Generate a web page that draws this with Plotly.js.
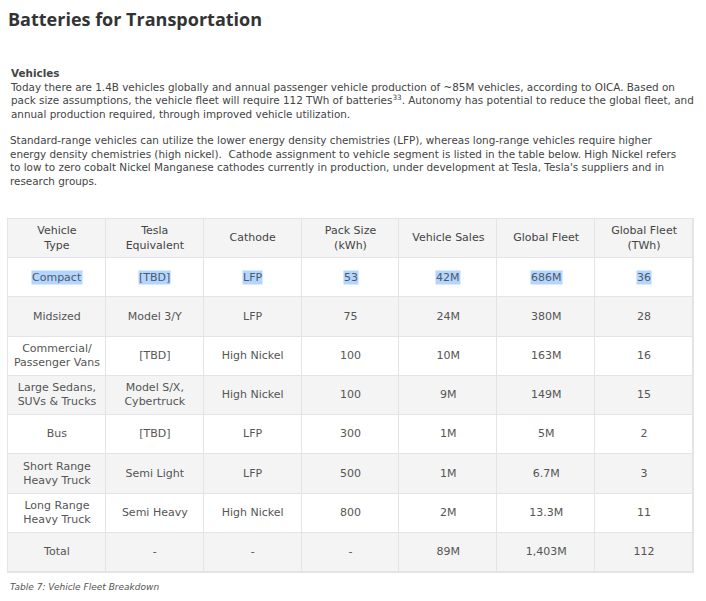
<!DOCTYPE html>
<html>
<head>
<meta charset="utf-8">
<script src="https://cdn.plot.ly/plotly-3.0.1.min.js"></script>
<style>
  body { margin: 0; background: #fff; }
  #fleet { width: 706px; height: 601px; }
</style>
</head>
<body>
<div id="fleet"></div>
<script>
var FLEET = document.getElementById('fleet');

var headers = ['Vehicle<br>Type', 'Tesla<br>Equivalent', 'Cathode', 'Pack Size<br>(kWh)', 'Vehicle Sales', 'Global Fleet', 'Global Fleet<br>(TWh)'];
var vehicleTypes = ['Compact', 'Midsized', 'Commercial/<br>Passenger Vans', 'Large Sedans,<br>SUVs & Trucks', 'Bus', 'Short Range<br>Heavy Truck', 'Long Range<br>Heavy Truck', 'Total'];
var teslaEquivalent = ['[TBD]', 'Model 3/Y', '[TBD]', 'Model S/X,<br>Cybertruck', '[TBD]', 'Semi Light', 'Semi Heavy', '-'];
var cathode = ['LFP', 'LFP', 'High Nickel', 'High Nickel', 'LFP', 'LFP', 'High Nickel', '-'];
var packSize = ['53', '75', '100', '100', '300', '500', '800', '-'];
var vehicleSales = ['42M', '24M', '10M', '9M', '1M', '1M', '2M', '89M'];
var globalFleet = ['686M', '380M', '163M', '149M', '5M', '6.7M', '13.3M', '1,403M'];
var fleetTWh = ['36', '28', '16', '15', '2', '3', '11', '112'];

var columns = [vehicleTypes, teslaEquivalent, cathode, packSize, vehicleSales, globalFleet, fleetTWh];
var nRows = vehicleTypes.length + 1;   // header + data rows
var FONT = '"DejaVu Sans", sans-serif';

// cell backgrounds: header and every other row shaded, gaps show the grid colour
var z = [];
for (var r = 0; r < nRows; r++) {
    var row = [];
    for (var c = 0; c < columns.length; c++) row.push(r % 2 === 0 ? 1 : 0);
    z.push(row);
}
var fills = {
    type: 'heatmap', z: z,
    colorscale: [[0, '#ffffff'], [1, '#f4f4f4']], zmin: 0, zmax: 1,
    showscale: false, xgap: 1, ygap: 1, hoverinfo: 'skip'
};

// header text
var headText = {
    type: 'scatter', mode: 'text', hoverinfo: 'skip',
    x: headers.map(function (h, i) { return i; }),
    y: headers.map(function () { return 0; }),
    text: headers,
    textposition: 'middle center',
    textfont: { family: FONT, size: 11, color: '#444' }
};

// body text
var bx = [], by = [], bt = [];
columns.forEach(function (col, c) {
    col.forEach(function (v, r) { bx.push(c); by.push(r + 1); bt.push(v); });
});
var bodyText = {
    type: 'scatter', mode: 'text', hoverinfo: 'skip',
    x: bx, y: by, text: bt,
    textposition: 'middle center',
    textfont: { family: FONT, size: 11, color: '#555' }
};

// page geometry, used to place the text blocks above the table
var H = 601, T = 219, B = 29;
function py(y) { return (H - B - y) / (H - T - B); }

var para1 = '<b>Vehicles</b><br>' +
    'Today there are 1.4B vehicles globally and annual passenger vehicle production of ~85M vehicles, according to OICA. Based on<br>' +
    'pack size assumptions, the vehicle fleet will require 112 TWh of batteries<sup>33</sup>. Autonomy has potential to reduce the global fleet, and<br>' +
    'annual production required, through improved vehicle utilization.';
var para2 = 'Standard-range vehicles can utilize the lower energy density chemistries (LFP), whereas long-range vehicles require higher<br>' +
    'energy density chemistries (high nickel).  Cathode assignment to vehicle segment is listed in the table below. High Nickel refers<br>' +
    'to low to zero cobalt Nickel Manganese cathodes currently in production, under development at Tesla, Tesla\'s suppliers and in<br>' +
    'research groups.';

function note(text, y, size, color) {
    return {
        text: text, xref: 'paper', yref: 'paper', x: 0, y: py(y),
        xanchor: 'left', yanchor: 'top', align: 'left', showarrow: false,
        font: { family: FONT, size: size, color: color }
    };
}

// text-selection highlight on the first data row
var highlight = columns.map(function (col, c) {
    return {
        text: col[0], xref: 'x', yref: 'y', x: c, y: 1,
        xanchor: 'center', yanchor: 'middle', showarrow: false, borderpad: 0,
        bgcolor: '#b5d6fc', font: { family: FONT, size: 11, color: '#4a5870' }
    };
});

var axis = {
    showgrid: false, zeroline: false, showticklabels: false, ticks: '',
    showline: true, mirror: true, linecolor: '#e4e4e8', linewidth: 1, fixedrange: true
};

var layout = {
    width: 706, height: 601,
    margin: { l: 8, r: 13, t: T, b: B },
    paper_bgcolor: '#ffffff',
    plot_bgcolor: '#e4e4e8',
    showlegend: false,
    xaxis: Object.assign({ range: [-0.5, columns.length - 0.5] }, axis),
    yaxis: Object.assign({ range: [nRows - 0.5, -0.5] }, axis),
    title: {
        text: '<b>Batteries for Transportation</b>',
        xref: 'paper', x: 0, xanchor: 'left',
        yref: 'container', y: 1 - 20 / H, yanchor: 'middle',
        font: { family: '"Open Sans", sans-serif', size: 18, color: '#333' }
    },
    annotations: [
        note(para1, 65, 10.4, '#444'),
        note(para2, 132, 10.4, '#444'),
        note('<i>Table 7: Vehicle Fleet Breakdown</i>', 580, 9, '#555')
    ].concat(highlight)
};

Plotly.newPlot(FLEET, [fills, headText, bodyText], layout, { displayModeBar: false, staticPlot: true });
</script>
</body>
</html>
